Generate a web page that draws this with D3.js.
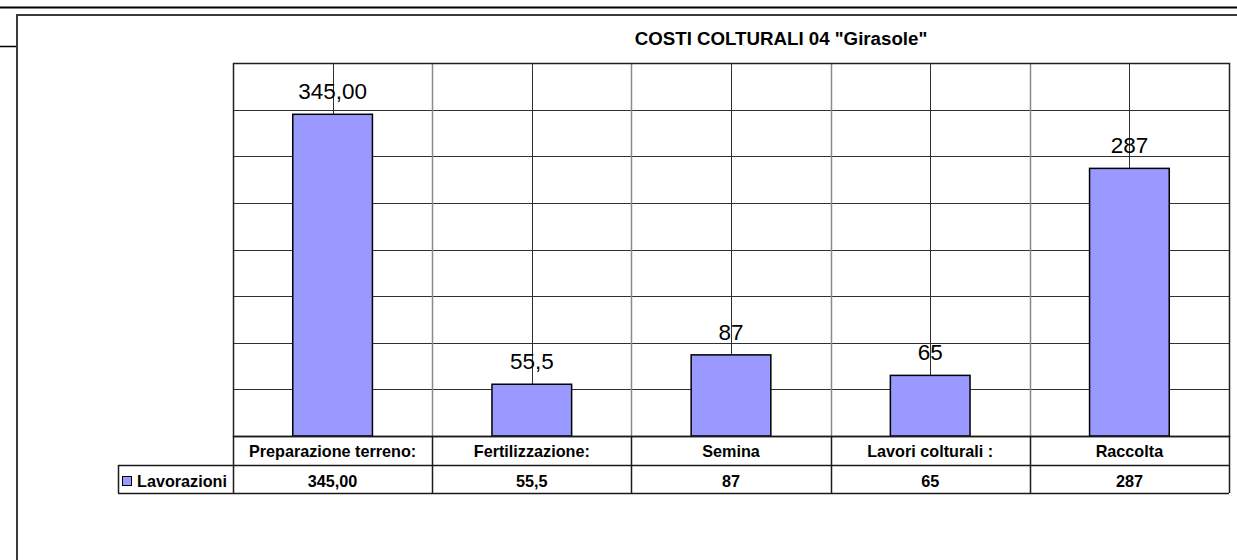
<!DOCTYPE html>
<html>
<head>
<meta charset="utf-8">
<script src="https://cdn.jsdelivr.net/npm/d3@7"></script>
<style>
  html, body { margin: 0; padding: 0; background: #fff; }
  svg { display: block; font-family: "Liberation Sans", Arial, sans-serif; }
</style>
</head>
<body>
<svg id="chart" width="1237" height="560"></svg>
<script>
// ---- data ----
const title = 'COSTI COLTURALI 04 "Girasole"';
const categories = ["Preparazione terreno:", "Fertilizzazione:", "Semina", "Lavori colturali :", "Raccolta"];
const values = [345, 55.5, 87, 65, 287];
const valueLabels = ["345,00", "55,5", "87", "65", "287"];
const seriesName = "Lavorazioni";
const yTicks = [0, 50, 100, 150, 200, 250, 300, 350, 400];

// ---- layout ----
const svg = d3.select("#chart");
const plot = { left: 233, right: 1229, top: 63, bottom: 436 };
const table = { row1: 436, row2: 465, bottom: 493, legendLeft: 118 };
const barColor = "#9999FF";

const y = d3.scaleLinear().domain([0, 400]).range([plot.bottom, plot.top]);
const xCell = d3.scaleBand().domain(categories).range([plot.left, plot.right]).padding(0);
const xBar = d3.scaleBand().domain(categories).range([plot.left, plot.right]).paddingInner(0.6).paddingOuter(0.3);

// page decorations
svg.append("line").attr("x1", 0).attr("x2", 1237).attr("y1", 7.5).attr("y2", 7.5)
  .attr("stroke", "#000").attr("stroke-width", 2);
svg.append("line").attr("x1", 0).attr("x2", 16).attr("y1", 46.5).attr("y2", 46.5)
  .attr("stroke", "#000").attr("stroke-width", 1.5);
svg.append("path").attr("d", "M17,560 V15 H1237")
  .attr("fill", "none").attr("stroke", "#3a3a3a").attr("stroke-width", 2);

// title
svg.append("text").attr("x", 781).attr("y", 45).attr("text-anchor", "middle")
  .attr("font-size", 18.7).attr("font-weight", "bold").attr("fill", "#000").text(title);

// horizontal gridlines
svg.append("g").selectAll("line").data(yTicks.slice(1)).join("line")
  .attr("x1", plot.left).attr("x2", plot.right)
  .attr("y1", d => Math.round(y(d)) + 0.5).attr("y2", d => Math.round(y(d)) + 0.5)
  .attr("stroke", "#303030").attr("stroke-width", 1);

// category boundary verticals (gray)
svg.append("g").selectAll("line").data(categories.slice(1)).join("line")
  .attr("x1", d => Math.round(xCell(d)) + 0.5).attr("x2", d => Math.round(xCell(d)) + 0.5)
  .attr("y1", plot.top).attr("y2", plot.bottom)
  .attr("stroke", "#8a8a8a").attr("stroke-width", 1.5);

// mid verticals (dark)
svg.append("g").selectAll("line").data(categories).join("line")
  .attr("x1", d => Math.round(xCell(d) + xCell.bandwidth() / 2) + 0.5)
  .attr("x2", d => Math.round(xCell(d) + xCell.bandwidth() / 2) + 0.5)
  .attr("y1", plot.top).attr("y2", plot.bottom)
  .attr("stroke", "#303030").attr("stroke-width", 1);

// plot border
svg.append("rect").attr("x", plot.left + 0.5).attr("y", plot.top + 0.5)
  .attr("width", plot.right - plot.left).attr("height", plot.bottom - plot.top)
  .attr("fill", "none").attr("stroke", "#202020").attr("stroke-width", 1.5);

// bars
svg.append("g").selectAll("rect").data(values).join("rect")
  .attr("x", (d, i) => xBar(categories[i]))
  .attr("y", d => y(d))
  .attr("width", xBar.bandwidth())
  .attr("height", d => y(0) - y(d))
  .attr("fill", barColor).attr("stroke", "#000").attr("stroke-width", 1.5);

// value labels
svg.append("g").selectAll("text").data(values).join("text")
  .attr("x", (d, i) => xBar(categories[i]) + xBar.bandwidth() / 2)
  .attr("y", d => y(d) - 15)
  .attr("text-anchor", "middle").attr("font-size", 22.5).attr("fill", "#000")
  .text((d, i) => valueLabels[i]);

// data table
const tg = svg.append("g");
const lineCol = "#1a1a1a";
tg.append("line").attr("x1", plot.left).attr("x2", plot.right).attr("y1", table.row1 + 0.5).attr("y2", table.row1 + 0.5).attr("stroke", lineCol).attr("stroke-width", 1.5);
tg.append("line").attr("x1", table.legendLeft).attr("x2", plot.right).attr("y1", table.row2 + 0.5).attr("y2", table.row2 + 0.5).attr("stroke", lineCol).attr("stroke-width", 1.5);
tg.append("line").attr("x1", table.legendLeft).attr("x2", plot.right).attr("y1", table.bottom + 0.5).attr("y2", table.bottom + 0.5).attr("stroke", lineCol).attr("stroke-width", 1.5);
tg.append("line").attr("x1", table.legendLeft + 0.5).attr("x2", table.legendLeft + 0.5).attr("y1", table.row2).attr("y2", table.bottom).attr("stroke", lineCol).attr("stroke-width", 1.5);
const vx = categories.map(c => xCell(c)).concat([plot.right]);
tg.selectAll("line.v").data(vx).join("line").attr("class", "v")
  .attr("x1", d => Math.round(d) + 0.5).attr("x2", d => Math.round(d) + 0.5)
  .attr("y1", table.row1).attr("y2", table.bottom)
  .attr("stroke", lineCol).attr("stroke-width", 1.5);
tg.selectAll("text.cat").data(categories).join("text").attr("class", "cat")
  .attr("x", d => xCell(d) + xCell.bandwidth() / 2).attr("y", 457)
  .attr("text-anchor", "middle").attr("font-size", 16.2).attr("font-weight", "bold").text(d => d);
tg.selectAll("text.val").data(valueLabels).join("text").attr("class", "val")
  .attr("x", (d, i) => xCell(categories[i]) + xCell.bandwidth() / 2).attr("y", 486.5)
  .attr("text-anchor", "middle").attr("font-size", 16.2).attr("font-weight", "bold").text(d => d);
tg.append("rect").attr("x", 122.5).attr("y", 476.5).attr("width", 9).attr("height", 9)
  .attr("fill", barColor).attr("stroke", "#000").attr("stroke-width", 1);
tg.append("text").attr("x", 137).attr("y", 486.5).attr("font-size", 16.2).attr("font-weight", "bold").text(seriesName);
</script>
</body>
</html>
